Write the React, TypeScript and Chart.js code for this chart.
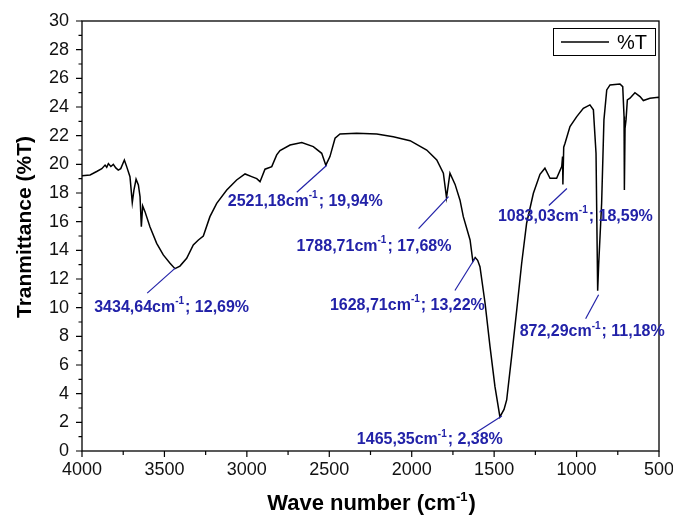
import React, { useEffect, useRef } from 'react';
import { Chart, registerables } from 'chart.js';

Chart.register(...registerables);

// ---- data ----
const wavenumbers = [
  4000, 3951, 3911, 3880, 3860, 3850, 3840, 3825, 3810, 3795, 3780, 3765, 3743, 3729, 3709, 3695, 3685, 3672,
  3658, 3648, 3640, 3632, 3618, 3588, 3547, 3507, 3466, 3436, 3406, 3365, 3325, 3294, 3264, 3224, 3183, 3122,
  3062, 3011, 2971, 2940, 2920, 2890, 2849, 2819, 2799, 2738, 2667, 2597, 2546, 2521, 2496, 2465, 2435, 2334,
  2212, 2112, 2010, 1909, 1848, 1808, 1789, 1768, 1737, 1707, 1687, 1646, 1629, 1615, 1600, 1586, 1555, 1525,
  1495, 1465, 1440, 1424, 1394, 1363, 1333, 1303, 1262, 1222, 1192, 1161, 1121, 1090, 1085, 1083, 1078, 1070,
  1040, 999, 959, 919, 898, 882, 872, 866, 848, 834, 817, 797, 737, 720, 712, 710, 706, 700, 692, 676, 646, 615,
  595, 555, 504, 500,
];
const transmittance = [
  19.2, 19.26, 19.5, 19.7, 19.95, 19.8, 20.05, 19.85, 20.0, 19.75, 19.6, 19.7, 20.3, 19.84, 19.14, 17.33, 18.2, 18.96,
  18.56, 17.75, 15.65, 17.1, 16.7, 15.65, 14.49, 13.68, 13.1, 12.72, 12.9, 13.45, 14.38, 14.72, 15.0, 16.35, 17.28, 18.21,
  18.91, 19.33, 19.14, 19.0, 18.79, 19.66, 19.84, 20.66, 20.96, 21.35, 21.52, 21.24, 20.77, 19.94, 20.54, 21.82, 22.12, 22.17,
  22.12, 21.93, 21.65, 21.0, 20.31, 19.38, 17.68, 19.38, 18.6, 17.5, 16.35, 14.72, 13.22, 13.5, 13.3, 12.86, 10.31, 7.28,
  4.49, 2.38, 2.9, 3.56, 6.58, 9.84, 13.1, 15.89, 17.98, 19.3, 19.73, 19.03, 19.03, 19.84, 20.54, 18.59, 21.2, 21.47,
  22.63, 23.33, 23.91, 24.15, 23.8, 20.77, 11.18, 13.0, 17.28, 23.1, 25.19, 25.54, 25.61, 25.42, 23.33, 18.21, 22.5, 23.1, 24.5, 24.61, 25.0, 24.73,
  24.45, 24.61, 24.68, 24.65,
];
const peakWavenumbers = [3434.64, 2521.18, 1788.71, 1628.71, 1465.35, 872.29, 1083.03];
const peakTransmittance = [12.69, 19.94, 17.68, 13.22, 2.38, 11.18, 18.59];
const xTickValues = [4000, 3500, 3000, 2500, 2000, 1500, 1000, 500];
const yTickValues = [0, 2, 4, 6, 8, 10, 12, 14, 16, 18, 20, 22, 24, 26, 28, 30];
const seriesLabel = '%T';
const xTitleMain = 'Wave number (cm';
const xTitleSup = '-1';
const xTitleEnd = ')';
const yTitle = 'Tranmittance (%T)';

// ---- layout (pixel offsets relative to each peak point) ----
// [endDx, endDy, startDx, startDy, textDx, textDy]
const annotationOffsets = [
  [0, -1, -28, 24, -81, 38],
  [1, 0, -29, 27, -98, 36],
  [2, -1, -28, 31, -150, 49],
  [2, -3, -18, 29, -143, 44],
  [2, -1, -23, 15, -143, 23],
  [1, 4, -12, 28, -78, 41],
  [4, 4, -14, 21, -65, 32],
];

const FONT = "'Liberation Sans', Arial, sans-serif";
const BLUE = '#2222a8';

function fmt(v: number) {
  return v.toFixed(2).replace('.', ',');
}

function drawSupText(
  ctx: CanvasRenderingContext2D,
  x: number,
  y: number,
  parts: [string, string, string],
  size: number,
  supSize: number,
  supRise: number,
  align: 'left' | 'center'
) {
  ctx.font = `bold ${size}px ${FONT}`;
  const w1 = ctx.measureText(parts[0]).width;
  const w3 = ctx.measureText(parts[2]).width;
  ctx.font = `bold ${supSize}px ${FONT}`;
  const w2 = ctx.measureText(parts[1]).width;
  const total = w1 + w2 + w3 + 1;
  let sx = align === 'center' ? x - total / 2 : x;
  ctx.textAlign = 'left';
  ctx.font = `bold ${size}px ${FONT}`;
  ctx.fillText(parts[0], sx, y);
  sx += w1;
  ctx.font = `bold ${supSize}px ${FONT}`;
  ctx.fillText(parts[1], sx, y - supRise);
  sx += w2 + 1;
  ctx.font = `bold ${size}px ${FONT}`;
  ctx.fillText(parts[2], sx, y);
}

const decorPlugin = {
  id: 'decor',
  afterDatasetsDraw(chart: any) {
    const { ctx, chartArea } = chart;
    const xs = chart.scales.x;
    const ys = chart.scales.y;
    const { left, right, top, bottom } = chartArea;
    ctx.save();

    // frame
    ctx.strokeStyle = '#000';
    ctx.lineWidth = 1.3;
    ctx.strokeRect(left, top, right - left, bottom - top);

    // ticks
    ctx.lineWidth = 1.2;
    ctx.beginPath();
    for (let i = 0; i < xTickValues.length; i++) {
      const px = xs.getPixelForValue(xTickValues[i]);
      ctx.moveTo(px, bottom);
      ctx.lineTo(px, bottom + 6);
      if (i < xTickValues.length - 1) {
        const m = xs.getPixelForValue((xTickValues[i] + xTickValues[i + 1]) / 2);
        ctx.moveTo(m, bottom);
        ctx.lineTo(m, bottom + 4);
      }
    }
    for (let i = 0; i < yTickValues.length; i++) {
      const py = ys.getPixelForValue(yTickValues[i]);
      ctx.moveTo(left, py);
      ctx.lineTo(left - 6, py);
      if (i < yTickValues.length - 1) {
        const m = ys.getPixelForValue((yTickValues[i] + yTickValues[i + 1]) / 2);
        ctx.moveTo(left, m);
        ctx.lineTo(left - 3.5, m);
      }
    }
    ctx.stroke();

    // legend
    const lx = right - 106;
    const ly = top + 7;
    ctx.lineWidth = 1;
    ctx.strokeRect(lx + 0.5, ly + 0.5, 102, 27);
    ctx.lineWidth = 1.5;
    ctx.beginPath();
    ctx.moveTo(lx + 8, ly + 14);
    ctx.lineTo(lx + 56, ly + 14);
    ctx.stroke();
    ctx.fillStyle = '#000';
    ctx.font = `20px ${FONT}`;
    ctx.textAlign = 'left';
    ctx.textBaseline = 'middle';
    ctx.fillText(seriesLabel, lx + 64, ly + 15);

    // annotations
    ctx.strokeStyle = BLUE;
    ctx.fillStyle = BLUE;
    ctx.lineWidth = 1.2;
    for (let i = 0; i < peakWavenumbers.length; i++) {
      const px = xs.getPixelForValue(peakWavenumbers[i]);
      const py = ys.getPixelForValue(peakTransmittance[i]);
      const o = annotationOffsets[i];
      ctx.beginPath();
      ctx.moveTo(px + o[2], py + o[3]);
      ctx.lineTo(px + o[0], py + o[1]);
      ctx.stroke();
      ctx.textBaseline = 'middle';
      drawSupText(
        ctx,
        px + o[4],
        py + o[5],
        [`${fmt(peakWavenumbers[i])}cm`, '-1', `; ${fmt(peakTransmittance[i])}%`],
        16,
        10,
        6,
        'left'
      );
    }

    // axis titles
    ctx.fillStyle = '#000';
    ctx.textBaseline = 'alphabetic';
    drawSupText(ctx, (left + right) / 2 + 1, 510, [xTitleMain, xTitleSup, xTitleEnd], 22, 13, 9, 'center');

    ctx.save();
    ctx.translate(31, (top + bottom) / 2 - 9);
    ctx.rotate(-Math.PI / 2);
    ctx.font = `bold 21px ${FONT}`;
    ctx.textAlign = 'center';
    ctx.textBaseline = 'alphabetic';
    ctx.fillText(yTitle, 0, 0);
    ctx.restore();

    ctx.restore();
  },
};

export default function App() {
  const ref = useRef<HTMLCanvasElement | null>(null);
  useEffect(() => {
    if (!ref.current) return;
    const points = wavenumbers.map((w, i) => ({ x: w, y: transmittance[i] }));
    const chart = new Chart(ref.current, {
      type: 'line',
      data: {
        datasets: [
          {
            label: seriesLabel,
            data: points,
            borderColor: '#000',
            borderWidth: 1.5,
            pointRadius: 0,
            tension: 0,
            fill: false,
          },
        ],
      },
      options: {
        responsive: false,
        animation: false,
        parsing: true,
        layout: { padding: { left: 0, top: 21, right: 14, bottom: 0 } },
        plugins: { legend: { display: false }, tooltip: { enabled: false } },
        scales: {
          x: {
            type: 'linear',
            reverse: true,
            min: 500,
            max: 4000,
            grid: { display: false, drawTicks: false },
            border: { display: false },
            afterBuildTicks: (s: any) => {
              s.ticks = xTickValues.map((v) => ({ value: v }));
            },
            afterFit: (s: any) => {
              s.height = 70;
              s.paddingLeft = 0;
              s.paddingRight = 0;
            },
            ticks: {
              padding: 8,
              maxRotation: 0,
              autoSkip: false,
              color: '#111',
              font: { family: FONT, size: 18 },
              callback: (v: any) => String(v),
            },
          },
          y: {
            min: 0,
            max: 30,
            grid: { display: false, drawTicks: false },
            border: { display: false },
            afterBuildTicks: (s: any) => {
              s.ticks = yTickValues.map((v) => ({ value: v }));
            },
            afterFit: (s: any) => {
              s.width = 82;
              s.paddingTop = 0;
              s.paddingBottom = 0;
            },
            ticks: {
              padding: 13,
              autoSkip: false,
              color: '#111',
              font: { family: FONT, size: 18 },
              callback: (v: any) => String(v),
            },
          },
        },
      },
      plugins: [decorPlugin],
    });
    return () => chart.destroy();
  }, []);
  return (
    <div style={{ position: 'absolute', left: 0, top: 0, width: 673, height: 521, background: '#fff' }}>
      <canvas ref={ref} width={673} height={521} style={{ display: 'block' }} />
    </div>
  );
}
